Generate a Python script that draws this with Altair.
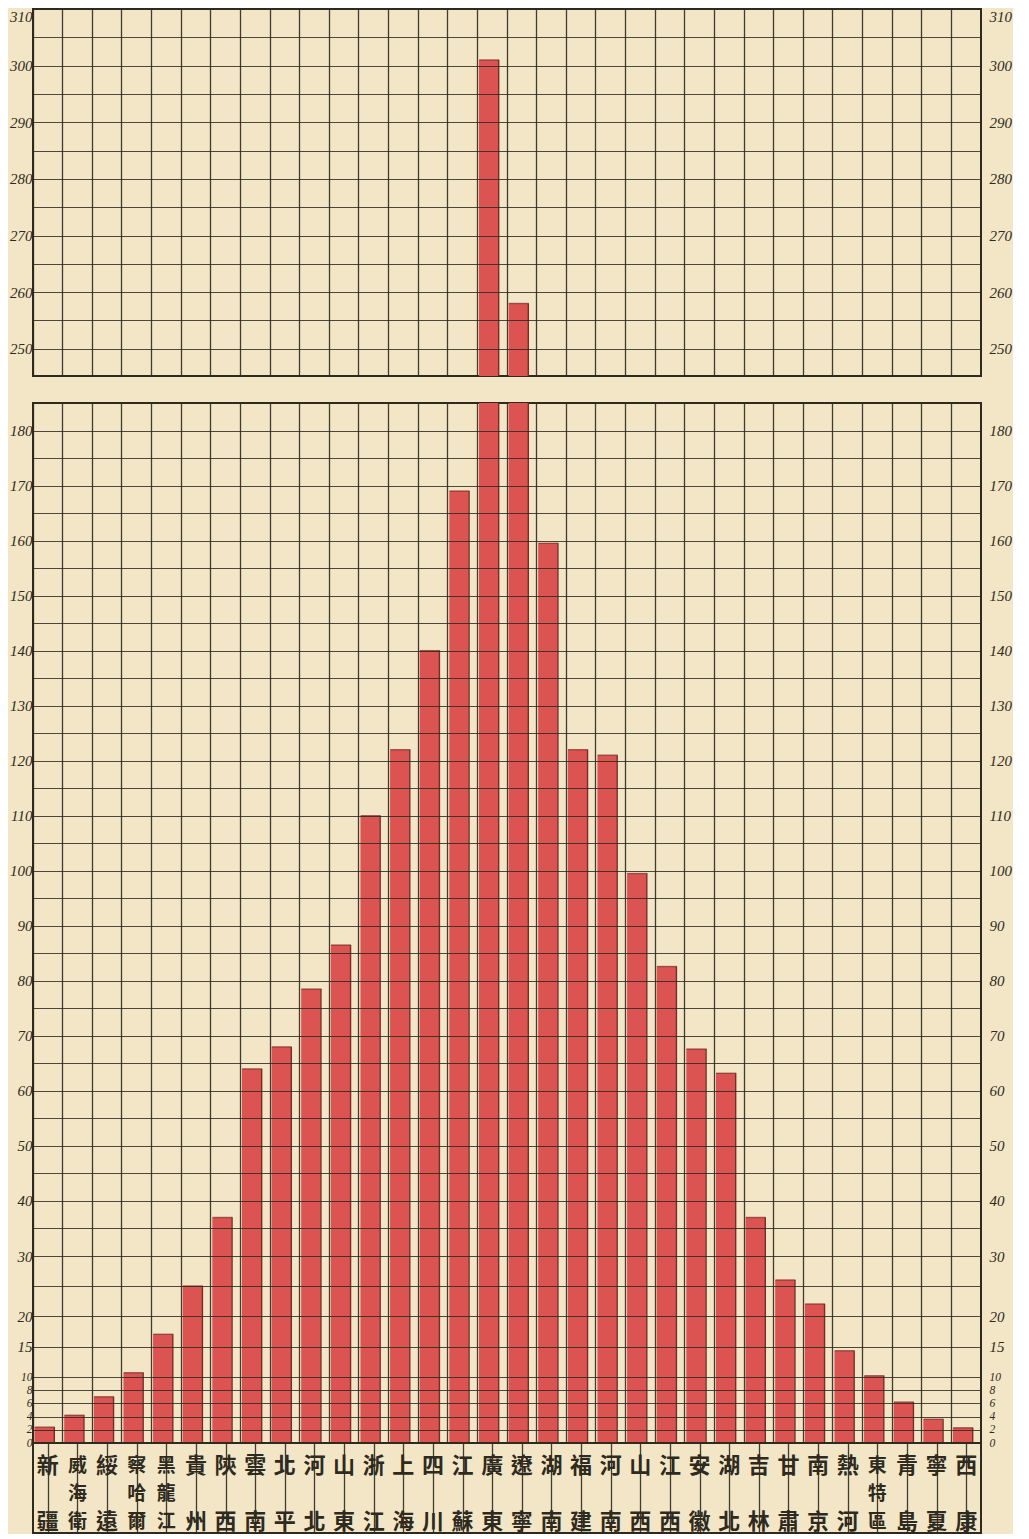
import altair as alt
import pandas as pd

# ---------------- data ----------------
provinces = ["新疆", "威海衛", "綏遠", "察哈爾", "黑龍江", "貴州", "陝西", "雲南",
             "北平", "河北", "山東", "浙江", "上海", "四川", "江蘇", "廣東",
             "遼寧", "湖南", "福建", "河南", "山西", "江西", "安徽", "湖北",
             "吉林", "甘肅", "南京", "熱河", "東特區", "青島", "寧夏", "西康"]
values = [2.4, 4.2, 7.0, 10.7, 17.0, 25.0, 37.0, 64.0,
          68.0, 78.5, 86.5, 110.0, 122.0, 140.0, 169.0, 301.0,
          258.0, 159.5, 122.0, 121.0, 99.5, 82.6, 67.6, 63.2,
          37.0, 26.0, 22.0, 14.3, 10.2, 6.2, 3.6, 2.3]

top_grid = list(range(250, 315, 5))
bottom_grid = [0, 2, 4, 6, 8, 10, 15] + list(range(20, 185, 5))

RED = "#dc5452"
EDGE = "#7a2b26"
INK = "#2f2a20"
PAPER = "#f2e6c6"

df = pd.DataFrame({"province": provinces, "value": values})

rows = []
for p in provinces:
    n = len(p)
    slots = [0, 2] if n == 2 else list(range(n))
    for ch, s in zip(p, slots):
        rows.append({"province": p, "char": ch, "slot": s, "n": n})
ldf = pd.DataFrame(rows)

W = 948

xenc = alt.X(
    "province:N", sort=provinces, title=None,
    scale=alt.Scale(paddingInner=0, paddingOuter=0),
    axis=alt.Axis(labels=False, ticks=False, domain=False, grid=True,
                  bandPosition=0, gridColor=INK, gridWidth=1.3, gridOpacity=0.9,
                  minExtent=0, maxExtent=0, offset=0),
)

lab_expr = "(datum.value % 10 == 5 && datum.value > 15) ? '' : datum.label"
fs = {"condition": {"test": "datum.value <= 10", "value": 11.5}, "value": 15}


def panel(domain, rng, height, grid_vals, flush):
    sargs = dict(domain=domain, nice=False, zero=False)
    if rng is not None:
        sargs["range"] = rng
    scale = alt.Scale(**sargs)
    left = alt.Axis(values=grid_vals, labelExpr=lab_expr, orient="left", grid=True,
                    zindex=1, ticks=False, domain=False, labelFontSize=fs,
                    labelPadding=1, labelOverlap=False, labelFlush=flush,
                    gridColor=INK, gridWidth=1.2, gridOpacity=0.85, title=None)
    right = alt.Axis(values=grid_vals, labelExpr=lab_expr, orient="right", grid=False,
                     ticks=False, domain=False, labelFontSize=fs, labelPadding=8,
                     labelOverlap=False, labelFlush=flush, title=None)
    base = alt.Chart(df).encode(x=xenc)
    bars = base.mark_bar(color=RED, width=19.5, xOffset=-3.5, clip=True).encode(
        y=alt.Y("value:Q", scale=scale, axis=left), y2=alt.datum(0))
    edge = base.mark_rule(color=EDGE, strokeWidth=1.4, xOffset=6.5, clip=True).encode(
        y=alt.Y("value:Q", scale=scale, axis=right), y2=alt.datum(0))
    cap = base.mark_tick(color=EDGE, thickness=1.4, size=20, xOffset=-3, clip=True).encode(
        y=alt.Y("value:Q", scale=scale, axis=None))
    return alt.layer(bars, edge, cap).resolve_axis(y="independent").properties(
        width=W, height=height)


top = panel([245.2, 310], None, 367, top_grid, True)
bottom = panel([0, 10, 20, 30, 185], [1040, 974, 913, 853, 0], 1040, bottom_grid, False)

labels = alt.Chart(ldf).mark_text(font="Noto Sans CJK TC", fontWeight="bold", color=INK,
                                  baseline="middle", align="center").encode(
    x=xenc,
    y=alt.Y("slot:Q", scale=alt.Scale(domain=[-0.8, 2.4], reverse=True), axis=None),
    text="char:N",
    size=alt.condition("datum.n == 3", alt.value(19), alt.value(22)),
).properties(width=W, height=90)

chart = alt.vconcat(
    top,
    alt.vconcat(bottom, labels, spacing=0, bounds="flush"),
    spacing=25,
).properties(padding=0, background=PAPER).configure_view(
    stroke=INK, strokeWidth=2, fill=PAPER
).configure_axis(
    labelFont="Liberation Serif", labelFontStyle="italic", labelColor=INK
)

chart.save("out.html", embed_options={"renderer": "svg", "actions": False})
